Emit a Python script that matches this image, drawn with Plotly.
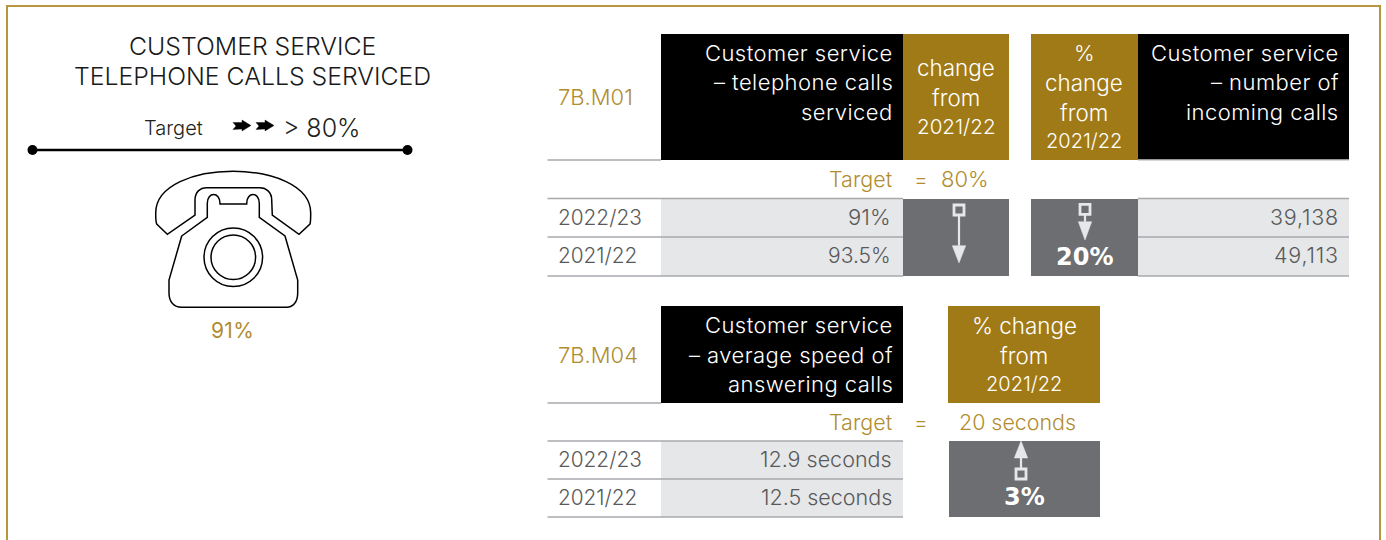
import plotly.graph_objects as go

# ---------- data ----------
title_lines = ["CUSTOMER SERVICE", "TELEPHONE CALLS SERVICED"]
target_label = "Target"
target_value = "> 80%"
phone_value = "91%"
years = ["2022/23", "2021/22"]
m01_code = "7B.M01"
m01_header = ["Customer service", "– telephone calls", "serviced"]
m01_change_header = ["change", "from", "2021/22"]
m01_target = "80%"
m01_values = ["91%", "93.5%"]
calls_change_header = ["%", "change", "from", "2021/22"]
calls_header = ["Customer service", "– number of", "incoming calls"]
calls_values = ["39,138", "49,113"]
calls_change = "20%"
m04_code = "7B.M04"
m04_header = ["Customer service", "– average speed of", "answering calls"]
m04_change_header = ["% change", "from", "2021/22"]
m04_target = "20 seconds"
m04_values = ["12.9 seconds", "12.5 seconds"]
m04_change = "3%"

# ---------- style ----------
FONT = "Inter"
WEIGHT = 300
GOLD_LINE = "#B8963E"
GOLD_TEXT = "#B08D2F"
GOLD_FILL = "#A07A16"
GREY_TEXT = "#58595B"
GREY_FILL = "#6D6E71"
CELL = "#E6E7E8"
RULE = "#A7A9AC"
ARROW = "#E6E7E8"
DY = -1  # optical shift of the text baseline

shapes, ann = [], []


def rect(x0, y0, x1, y1, fill):
    shapes.append(dict(type="rect", x0=x0, y0=y0, x1=x1, y1=y1, fillcolor=fill, line_width=0, layer="below"))


def hline(x0, x1, y, color=RULE, w=1.5):
    shapes.append(dict(type="line", x0=x0, x1=x1, y0=y, y1=y, line=dict(color=color, width=w)))


def text(x, y, s, size=21, color=GREY_TEXT, anchor="right", weight=WEIGHT, family=FONT, ls=0):
    label = f'<span style="letter-spacing:{ls}px">{s}</span>' if ls else s
    ann.append(dict(x=x, y=y + DY, text=label, xref="x", yref="y", showarrow=False, xanchor=anchor, yanchor="middle",
                    font=dict(family=family, size=size, color=color, weight=weight), borderpad=0, borderwidth=0))


def path(d, fill="rgba(0,0,0,0)", color="#000", w=1.5):
    shapes.append(dict(type="path", path=d, fillcolor=fill, line=dict(color=color, width=w)))


def marker_arrow(cx, y_sq, y_stem_end, y_tip):
    # stem, triangle head and square tail of the change indicators
    shapes.append(dict(type="line", x0=cx, x1=cx, y0=y_sq, y1=y_stem_end, line=dict(color=ARROW, width=2.2)))
    path(f"M{cx-6.7},{y_stem_end} L{cx+6.7},{y_stem_end} L{cx},{y_tip} Z", fill=ARROW, color=ARROW, w=0.5)
    shapes.append(dict(type="rect", x0=cx-5, x1=cx+5, y0=y_sq-5, y1=y_sq+5, fillcolor=GREY_FILL,
                       line=dict(color=ARROW, width=2.8)))


# border
shapes.append(dict(type="path", path="M7,545 L7,6 L1380,6 L1380,545", line=dict(color=GOLD_LINE, width=2)))

# left panel
for y, s in zip([47, 77], title_lines):
    text(252, y, s, size=24.8, color="#1a1a1a", anchor="center")
text(144, 129, target_label, size=20, color="#231F20", anchor="left")
text(283, 129, target_value, size=25, color="#231F20", anchor="left")
for x0 in (233, 256):
    path(f"M{x0},122.5 L{x0+9},122.5 L{x0+9},120 L{x0+18},125.5 L{x0+9},131 L{x0+9},129 L{x0},129.5 L{x0+3},126 Z",
         fill="#000", color="#000", w=0.4)
hline(32.5, 407.5, 150, color="#000", w=2.5)

# phone icon
path("M167.3,234.3 L156.7,224 C155.7,222 155.7,216 155.7,213 C155.7,185 195,171.3 233,171.3 "
     "C271,171.3 310.7,185 310.7,213 C310.7,216 310.7,222 310,224 L299,234.3 L272.3,215 L271.7,200 "
     "C271.7,192 266,187.7 260,187.7 L206.7,187.7 C200,187.7 195,192 195,200 L195,215 Z")
path("M181.7,236 L207.3,217.3 L207.3,203.3 C207.3,191.5 220,191.5 220,203.3 L220,204 L246.7,204 L246.7,203.3 "
     "C246.7,191.5 259.3,191.5 259.3,203.3 L259.3,217.3 L285,236 L297.7,280 L297.7,293 "
     "C297.7,302 293,307.3 286.7,307.3 L181.7,307.3 C174,307.3 169,302 169,293 L169,280 Z")
for r in (29.3, 22.3):
    shapes.append(dict(type="circle", x0=233.3-r, x1=233.3+r, y0=257.3-r, y1=257.3+r, line=dict(color="#000", width=1.5)))
text(232.5, 331, phone_value, size=21, color=GOLD_TEXT, anchor="center", ls=0.3, weight=400)

H = 22  # header size
HLS = 0.45

# table 7B.M01
rect(661, 34, 903, 160, "#000")
rect(903, 34, 1009, 160, GOLD_FILL)
rect(661, 199, 903, 276, CELL)
rect(903, 199, 1009, 276, GREY_FILL)
text(558, 98, m01_code, size=22, color=GOLD_TEXT, anchor="left")
for y, s in zip([54, 83, 113], m01_header):
    text(893, y, s, size=H, color="#fff", ls=HLS)
for y, s, z in zip([68, 98, 127], m01_change_header, [22.4, 22.4, 20.6]):
    text(956, y, s, size=z, color="#fff", anchor="center")
text(892, 180, target_label, size=21.5, color=GOLD_TEXT)
text(921, 180, "=", color=GOLD_TEXT, anchor="center")
text(941, 180, m01_target, size=22, color=GOLD_TEXT, anchor="left")
for y, yr, v, z in zip([218, 256], years, m01_values, [22, 21]):
    text(558, y, yr, size=20.8, anchor="left")
    text(891, y, v, size=z)
for y in (198.5, 237, 276):
    hline(547.5, 903, y)
hline(547.5, 661, 160)
marker_arrow(959, 210, 245.7, 263)

# table calls
rect(1031, 34, 1138, 160, GOLD_FILL)
rect(1138, 34, 1349, 160, "#000")
rect(1138, 199, 1349, 276, CELL)
rect(1031, 199, 1138, 276, GREY_FILL)
for y, s, z in zip([54, 83, 113, 142], calls_change_header, [22, 22.4, 22.4, 20]):
    text(1084, y, s, size=z, color="#fff", anchor="center")
for y, s in zip([54, 83, 113], calls_header):
    text(1339, y, s, size=H, color="#fff", ls=HLS)
for y, v in zip([218, 256], calls_values):
    text(1339, y, v, size=21.5, ls=0.8)
for y in (198.5, 237, 276):
    hline(1138, 1349, y)
hline(1138, 1349, 160, color="#C8CACC")
marker_arrow(1085, 209.3, 221.7, 240)
text(1084, 258, calls_change, size=24, color="#fff", anchor="center", weight=700, family="DejaVu Sans")

# table 7B.M04
rect(661, 306, 903, 403, "#000")
rect(948, 306, 1100, 403, GOLD_FILL)
rect(661, 441, 903, 517, CELL)
rect(949, 441, 1100, 517, GREY_FILL)
text(558, 356, m04_code, size=22, color=GOLD_TEXT, anchor="left")
for y, s in zip([326, 356, 385], m04_header):
    text(893, y, s, size=H, color="#fff", ls=HLS)
for y, s, z in zip([326, 356, 385], m04_change_header, [22.4, 22.4, 20]):
    text(1024, y, s, size=z, color="#fff", anchor="center")
text(892, 423, target_label, size=21.5, color=GOLD_TEXT)
text(921, 423, "=", color=GOLD_TEXT, anchor="center")
text(959, 423, m04_target, size=21.4, color=GOLD_TEXT, anchor="left")
for y, yr, v in zip([460, 498], years, m04_values):
    text(558, y, yr, size=20.8, anchor="left")
    text(892, y, v, size=21.5)
for y in (441, 479, 517):
    hline(547.5, 903, y)
hline(547.5, 661, 403)
marker_arrow(1021, 474, 458, 441)
text(1024, 498, m04_change, size=24, color="#fff", anchor="center", weight=700, family="DejaVu Sans")

fig = go.Figure(go.Scatter(x=[32.5, 407.5], y=[150, 150], mode="markers",
                           marker=dict(color="#000", size=10), hoverinfo="skip", showlegend=False))
fig.update_layout(width=1386, height=540, margin=dict(l=0, r=0, t=0, b=0), paper_bgcolor="#fff", plot_bgcolor="#fff",
                  shapes=shapes, annotations=ann,
                  xaxis=dict(range=[0, 1386], visible=False, fixedrange=True),
                  yaxis=dict(range=[540, 0], visible=False, fixedrange=True))
fig.write_html("out.html", config=dict(displayModeBar=False),
               post_script="document.body.style.margin='0';document.documentElement.style.overflow='hidden';")
